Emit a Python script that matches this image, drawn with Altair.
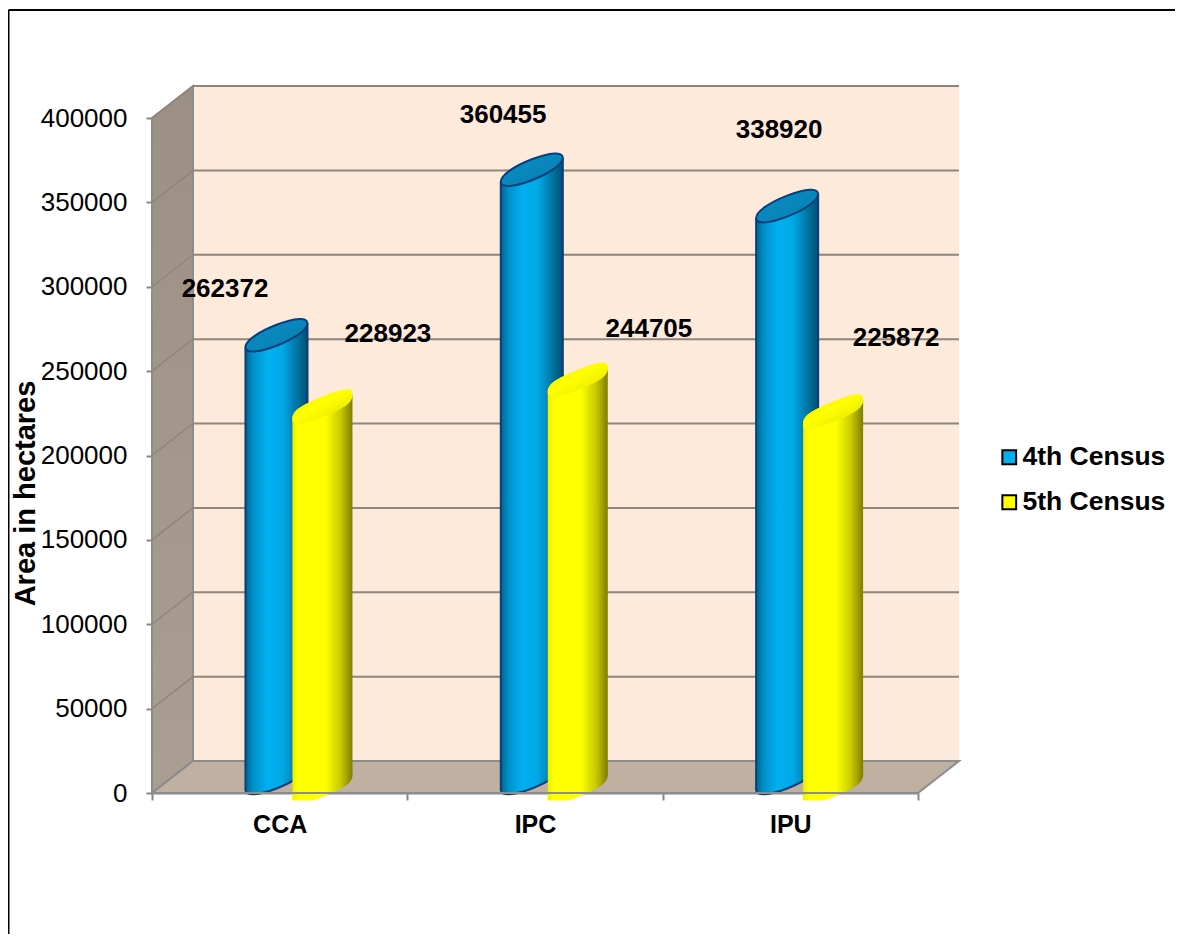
import altair as alt
import pandas as pd

categories = ["CCA", "IPC", "IPU"]
series = ["4th Census", "5th Census"]
census4 = [262372, 360455, 338920]
census5 = [228923, 244705, 225872]
y_ticks = [0, 50000, 100000, 150000, 200000, 250000, 300000, 350000, 400000]
label_x4 = [0.286, 1.375, 2.456]
label_y4 = [298700, 401800, 392900]
label_x5 = [0.924, 1.946, 2.914]
label_y5 = [272000, 275000, 269600]

PX_Y = 400000 / 675
PX_X = 3 / 766
DEPTH_X = 41 * PX_X
DEPTH_Y = 32 * PX_Y
SHEAR = 12 * PX_Y
FONT = "Liberation Sans"
FS = 26

X = alt.Scale(domain=[0, 3], nice=False, zero=False)
Y = alt.Scale(domain=[0, 400000], nice=False)
def xq(f, **k): return alt.X(f, type="quantitative", scale=X, axis=None, **k)
def yq(f, **k): return alt.Y(f, type="quantitative", scale=Y, axis=None, stack=None, **k)
x2 = lambda f: alt.X2(f)
y2 = lambda f: alt.Y2(f)

def ellipse(s, b, k=0.5523):
    m = lambda x, y: f"{x:.4f} {-s * x + b * y:.4f}"
    return (f"M{m(1,0)} C{m(1,k)} {m(k,1)} {m(0,1)} C{m(-k,1)} {m(-1,k)} {m(-1,0)} "
            f"C{m(-1,-k)} {m(-k,-1)} {m(0,-1)} C{m(k,-1)} {m(1,-k)} {m(1,0)} Z")

def hgrad(stops):
    return alt.Gradient(gradient="linear", x1=0, y1=0, x2=1, y2=0,
                        stops=[alt.GradientStop(offset=o, color=c) for o, c in stops])
def vgrad(stops):
    return alt.Gradient(gradient="linear", x1=0, y1=0, x2=1, y2=1,
                        stops=[alt.GradientStop(offset=o, color=c) for o, c in stops])

BLUE_BODY = hgrad([(0, "#00648f"), (0.12, "#0090c8"), (0.35, "#00b0f0"), (0.6, "#00a8e6"), (0.85, "#00709c"), (1, "#004f72")])
YEL_BODY = hgrad([(0, "#eeee00"), (0.1, "#ffff00"), (0.55, "#ffff00"), (0.8, "#caca00"), (1, "#7d7d00")])
BLUE_TOP = vgrad([(0, "#0a90c8"), (1, "#087cae")])
YEL_TOP = vgrad([(0, "#f0f000"), (0.45, "#ffff00"), (1, "#dcdc00")])

geom = {
    "4th Census": dict(vals=census4, l=0.366, r=0.609, top=15 * PX_Y, base=15 * PX_Y),
    "5th Census": dict(vals=census5, l=0.550, r=0.785, top=0.0, base=6 * PX_Y),
}
centers, bodies = [], []
for name, g in geom.items():
    for i, (c, v) in enumerate(zip(categories, g["vals"])):
        l, r = i + g["l"], i + g["r"]
        t, b = v + g["top"], g["base"]
        centers.append(dict(series=name, cat=c, xc=(l + r) / 2, top=t, base=b))
        bodies.append(dict(series=name, cat=c, x=l, y=t - SHEAR, y2=b - SHEAR))
        bodies.append(dict(series=name, cat=c, x=r, y=t + SHEAR, y2=b + SHEAR))
centers = pd.DataFrame(centers)
bodies = pd.DataFrame(bodies)

labels = pd.DataFrame({
    "txt": [str(v) for v in census4 + census5],
    "x": label_x4 + label_x5,
    "y": label_y4 + label_y5,
})

# ---- the room: back wall, axes, side wall, floor, grid
wall = alt.Chart(pd.DataFrame([dict(x=DEPTH_X, x2=3 + DEPTH_X, y=DEPTH_Y, y2=400000 + DEPTH_Y)])).mark_rect(
    color="#FDEADA").encode(xq("x"), x2("x2"), yq("y"), y2("y2"))

axis_layer = alt.Chart(pd.DataFrame({"a": [0.0], "b": [0.0]})).mark_point(opacity=0).encode(
    x=alt.X("a:Q", scale=X, title=None, axis=alt.Axis(
        values=[0, 0.5, 1, 1.5, 2, 2.5, 3], grid=False, domainColor="#868686", domainWidth=2,
        tickColor="#868686", tickWidth=2, tickSize=7,
        tickOpacity={"condition": {"test": "datum.value % 1 != 0", "value": 0}, "value": 1},
        labelExpr="datum.value == 0.5 ? 'CCA' : datum.value == 1.5 ? 'IPC' : datum.value == 2.5 ? 'IPU' : ''",
        labelFont=FONT, labelFontSize=FS - 1, labelFontWeight="bold", labelColor="black",
        labelPadding=12, labelOverlap=False, labelFlush=False)),
    y=alt.Y("b:Q", scale=Y, axis=alt.Axis(
        values=y_ticks, format="d", grid=False, domainColor="#868686", domainWidth=2,
        tickColor="#868686", tickWidth=2, tickSize=6,
        labelFont=FONT, labelFontSize=FS, labelColor="black", labelPadding=19, labelOverlap=False,
        title="Area in hectares", titleFont=FONT, titleFontSize=29, titleFontWeight="bold", titleColor="black",
        titleAngle=270, titleX=-118, titleY=375, titleAlign="center", titleBaseline="alphabetic")),
)

side = alt.Chart(pd.DataFrame({"x": [0, DEPTH_X], "y": [400000, 400000 + DEPTH_Y], "y2": [0, DEPTH_Y]})).mark_area(
    color=alt.Gradient(gradient="linear", x1=0, y1=0, x2=0, y2=1,
                       stops=[alt.GradientStop(offset=0, color="#9c9085"), alt.GradientStop(offset=1, color="#aa9d92")]),
    stroke="#8c8c8c", strokeWidth=2, orient="vertical").encode(xq("x"), yq("y"), y2("y2"))

floor = alt.Chart(pd.DataFrame({"x": [0, DEPTH_X, 3, 3 + DEPTH_X], "y": [0, DEPTH_Y, DEPTH_Y, DEPTH_Y], "y2": [0, 0, 0, DEPTH_Y]})).mark_area(
    color="#BFB0A2", stroke="#8c8c8c", strokeWidth=2, orient="vertical").encode(xq("x"), yq("y"), y2("y2"))

grid_df = pd.DataFrame({"t": y_ticks[1:]})
grid_df["back"] = grid_df["t"] + DEPTH_Y
grid_df["x0"] = 0.0
grid_df["x1"] = DEPTH_X
grid_df["x3"] = 3 + DEPTH_X
grid_h = alt.Chart(grid_df).mark_rule(color="#8f857d", strokeWidth=2).encode(xq("x1"), x2("x3"), yq("back"))
grid_d = alt.Chart(grid_df).mark_rule(color="#8f857d", strokeWidth=1.5).encode(xq("x0"), x2("x1"), yq("t"), y2("back"))

# ---- cylinders
def cyl(name, fill, top_fill, stroke, sw, half, k, bb):
    size = (2 * half) ** 2
    path = ellipse(12 / half, bb / half, k)
    c = centers[centers.series == name]
    b = bodies[bodies.series == name]
    parts = []
    base = alt.Chart(c).mark_point(filled=True, shape=path, size=size, fill=fill, opacity=1,
                                   **({"stroke": stroke, "strokeWidth": sw} if sw else {"strokeWidth": 0})).encode(xq("xc"), yq("base"))
    body = alt.Chart(b).mark_area(color=fill, orient="vertical").encode(xq("x"), yq("y"), y2("y2"), detail="cat:N")
    parts += [base, body]
    if sw:
        edges = alt.Chart(b).mark_rule(color=stroke, strokeWidth=sw).encode(xq("x"), yq("y"), y2("y2"))
        parts.append(edges)
    under = alt.Chart(c).mark_point(filled=True, shape=path, size=size, opacity=1, strokeWidth=0).encode(
        xq("xc"), yq("top"),
        color=alt.Color("series:N", scale=alt.Scale(domain=series, range=["#00B0F0", "#FFFF00"]), legend=alt.Legend(
            title=None, orient="none", legendX=844, legendY=326, symbolType="square", symbolSize=190,
            symbolStrokeColor="black", symbolStrokeWidth=2, symbolOpacity=1,
            labelFont=FONT, labelFontSize=26.5, labelFontWeight="bold", labelColor="black",
            labelOffset=0, rowPadding=18, padding=0)))
    over = alt.Chart(c).mark_point(filled=True, shape=path, size=size, fill=top_fill, opacity=1,
                                   **({"stroke": stroke, "strokeWidth": sw} if sw else {"strokeWidth": 0})).encode(xq("xc"), yq("top"))
    return parts + [under, over]

blue = cyl("4th Census", BLUE_BODY, BLUE_TOP, "#0b3f7a", 2, 31, 0.6, 10.5)
yel = cyl("5th Census", YEL_BODY, YEL_TOP, None, 0, 30, 0.76, 10)

mask_df = centers[centers.series == "5th Census"].copy()
mask_df["l"] = mask_df["xc"] - 31 * PX_X
mask_df["r"] = mask_df["xc"] + 31 * PX_X
mask_df["y0"] = -7.5 * PX_Y
mask_df["y1"] = -19 * PX_Y
mask = alt.Chart(mask_df).mark_rect(color="white").encode(xq("l"), x2("r"), yq("y0"), y2("y1"))

front_edge = alt.Chart(pd.DataFrame({"x": [0.0], "x3": [3.0], "y": [0.0]})).mark_rule(
    color="#8c8c8c", strokeWidth=2).encode(xq("x"), x2("x3"), yq("y"))

text = alt.Chart(labels).mark_text(font=FONT, fontSize=FS, fontWeight="bold", color="black", align="center", baseline="middle").encode(
    xq("x"), yq("y"), text="txt:N")

# ---- frame of the picture
one = {"values": [{}]}
frame_top = alt.Chart(alt.Data(**one)).mark_rule(color="black", strokeWidth=2).encode(
    x=alt.value(-143.5), x2=alt.value(1040), y=alt.value(-108))
frame_left = alt.Chart(alt.Data(**one)).mark_rule(color="black", strokeWidth=2).encode(
    x=alt.value(-143.5), y=alt.value(-108), y2=alt.value(830))

chart = alt.layer(axis_layer, wall, side, floor, grid_h, grid_d, *blue, *yel, mask, front_edge, text, frame_top, frame_left).resolve_axis(
    x="independent", y="independent"
).properties(
    width=766, height=675,
    padding={"left": 144, "top": 110, "right": 257, "bottom": 141},
    autosize=alt.AutoSizeParams(type="none"),
    background="white",
).configure_view(stroke=None)

chart.save("out.html", embed_options={"renderer": "svg", "actions": False})
